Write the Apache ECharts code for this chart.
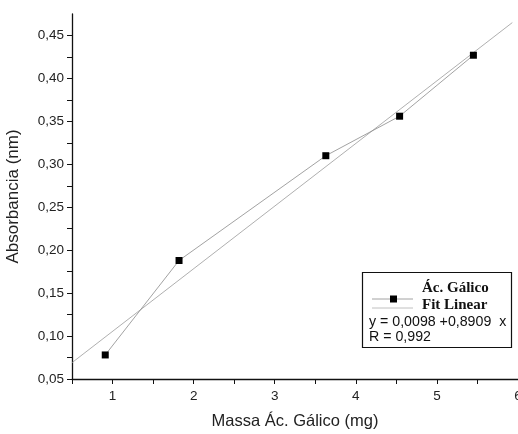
<!DOCTYPE html>
<html lang="pt">
  <head>
    <meta charset="UTF-8" />
    <title>Ác. Gálico</title>
    <style>
      html, body { margin: 0; padding: 0; background: #fff; }
      #main { width: 518px; height: 434px; }
    </style>
  </head>
  <body>
    <div id="main"></div>
    <script src="https://cdn.jsdelivr.net/npm/echarts@6/dist/echarts.min.js"></script>
    <script>
      const myChart = echarts.init(document.getElementById('main'))
      // pontos medidos
      var massa = [0.91, 1.82, 3.63, 4.54, 5.45]
      var absorb = [0.078, 0.188, 0.31, 0.356, 0.427]
      // reta do ajuste (extremos)
      var fitX = [0.5, 5.93]
      var fitY = [0.069, 0.465]
      var legendEq = 'y = 0,0098 +0,8909  x'
      var legendR = 'R = 0,992'

      var fmt = function (v, step) {
        var n = Math.round(v * 1000)
        return n % step === 0 ? v.toFixed(2).replace('.', ',') : ''
      }

      option = {
        backgroundColor: '#fff',
        animation: false,
        grid: { left: 72, right: 0, top: 14, bottom: 55, outerBoundsMode: 'none', containLabel: false },
        xAxis: {
          type: 'value',
          min: 0.5,
          max: 6,
          interval: 0.5,
          name: 'Massa Ác. Gálico (mg)',
          nameLocation: 'middle',
          nameGap: 34,
          nameTextStyle: { fontFamily: 'Liberation Sans', fontSize: 16.5, color: '#222' },
          axisLine: { lineStyle: { color: '#111', width: 1.3 } },
          axisTick: { inside: false, length: 5, lineStyle: { color: '#111' } },
          splitLine: { show: false },
          axisLabel: {
            margin: 10,
            fontFamily: 'Liberation Sans',
            fontSize: 13.5,
            color: '#222',
            showMaxLabel: true,
            formatter: function (v) {
              return Math.abs(v - Math.round(v)) < 1e-6 ? String(Math.round(v)) : ''
            }
          }
        },
        yAxis: {
          type: 'value',
          min: 0.05,
          max: 0.475,
          interval: 0.025,
          name: 'Absorbancia (nm)',
          nameLocation: 'middle',
          nameGap: 50,
          nameTextStyle: { fontFamily: 'Liberation Sans', fontSize: 17, color: '#222' },
          axisLine: { show: true, lineStyle: { color: '#111', width: 1.3 } },
          axisTick: { show: true, inside: false, length: 5, lineStyle: { color: '#111' } },
          splitLine: { show: false },
          axisLabel: {
            margin: 8,
            fontFamily: 'Liberation Sans',
            fontSize: 13.5,
            color: '#222',
            showMaxLabel: false,
            formatter: function (v) { return fmt(v, 50) }
          }
        },
        series: [
          {
            name: 'Fit Linear',
            type: 'line',
            data: fitX.map(function (x, i) { return [x, fitY[i]] }),
            showSymbol: false,
            lineStyle: { color: '#9a9a9a', width: 0.8 },
            z: 1
          },
          {
            name: 'Ác. Gálico',
            type: 'line',
            data: massa.map(function (x, i) { return [x, absorb[i]] }),
            symbol: 'rect',
            symbolSize: 7,
            itemStyle: { color: '#000' },
            lineStyle: { color: '#8a8a8a', width: 0.8 },
            z: 2
          }
        ],
        graphic: [
          {
            type: 'rect',
            shape: { x: 362.5, y: 272.5, width: 149, height: 75 },
            style: { fill: '#fff', stroke: '#111', lineWidth: 1.2 },
            z: 10
          },
          {
            type: 'line',
            shape: { x1: 372, y1: 299, x2: 413, y2: 299 },
            style: { stroke: '#8a8a8a', lineWidth: 0.8 },
            z: 11
          },
          {
            type: 'rect',
            shape: { x: 390, y: 295.5, width: 7, height: 7 },
            style: { fill: '#000' },
            z: 12
          },
          {
            type: 'line',
            shape: { x1: 372, y1: 308, x2: 413, y2: 308 },
            style: { stroke: '#b0b0b0', lineWidth: 0.8 },
            z: 11
          },
          {
            type: 'text',
            x: 422,
            y: 281,
            style: { text: 'Ác. Gálico', font: 'bold 15px "Liberation Serif"', fill: '#111' },
            z: 11
          },
          {
            type: 'text',
            x: 422,
            y: 298,
            style: { text: 'Fit Linear', font: 'bold 15px "Liberation Serif"', fill: '#111' },
            z: 11
          },
          {
            type: 'text',
            x: 369,
            y: 315,
            style: { text: legendEq, font: '14.2px "Liberation Sans"', fill: '#111' },
            z: 11
          },
          {
            type: 'text',
            x: 369,
            y: 330,
            style: { text: legendR, font: '14.2px "Liberation Sans"', fill: '#111' },
            z: 11
          }
        ]
      }

      myChart.setOption(option)
    </script>
  </body>
</html>
